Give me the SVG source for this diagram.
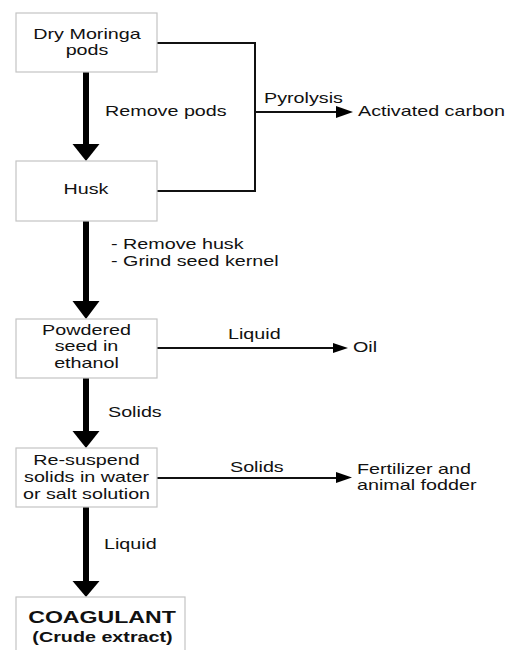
<svg xmlns="http://www.w3.org/2000/svg" width="509" height="650" viewBox="0 0 509 650">
<defs>
<style>
.box{fill:#fff;stroke:#c4c4c4;stroke-width:1.2}
.t{font-family:"Liberation Sans",Arial,sans-serif;font-size:15px;fill:#111}
.b{font-weight:bold}
.thin{fill:none;stroke:#111;stroke-width:2}
.thick{fill:none;stroke:#000;stroke-width:6}
.head{fill:#000}
</style>
<marker id="ah" markerWidth="9" markerHeight="7" refX="9" refY="3.5" orient="auto" markerUnits="strokeWidth">
<path d="M0,0 L9,3.5 L0,7 Z" fill="#000"/>
</marker>
</defs>
<rect width="509" height="650" fill="#fff"/>

<g id="connectors">
<path class="thin" d="M157,43 H255 V191 H157"/>
<path class="thin" d="M255,112 H337"/>
<path class="head" d="M336,106 L353,112 L336,118 Z"/>
<path class="thin" d="M157,348 H334"/>
<path class="head" d="M333,343 L348,348 L333,353 Z"/>
<path class="thin" d="M157,478 H337"/>
<path class="head" d="M336,472 L352,477.5 L336,483 Z"/>
<path class="thick" d="M86,72 V146"/>
<path class="head" d="M72.5,144 H99.5 L86,161 Z"/>
<path class="thick" d="M86,221 V303"/>
<path class="head" d="M72.5,301 H99.5 L86,319 Z"/>
<path class="thick" d="M86,378 V433"/>
<path class="head" d="M72.5,431 H99.5 L86,448 Z"/>
<path class="thick" d="M86,507 V583"/>
<path class="head" d="M72.5,581 H99.5 L86,597 Z"/>
</g>

<g id="labels" class="t">
<text transform="matrix(1.315 0 0 1 105 116)">Remove pods</text>
<text transform="matrix(1.315 0 0 1 264 103)">Pyrolysis</text>
<text transform="matrix(1.315 0 0 1 111 249)">- Remove husk</text>
<text transform="matrix(1.315 0 0 1 111 266)">- Grind seed kernel</text>
<text transform="matrix(1.315 0 0 1 228 339)">Liquid</text>
<text transform="matrix(1.315 0 0 1 108 417)">Solids</text>
<text transform="matrix(1.315 0 0 1 230 472)">Solids</text>
<text transform="matrix(1.315 0 0 1 104 549)">Liquid</text>
</g>

<g id="n-dry">
<rect class="box" x="16" y="13" width="141" height="59"/>
<text class="t" text-anchor="middle" transform="matrix(1.315 0 0 1 87 39)">Dry Moringa<tspan x="0" y="16">pods</tspan></text>
</g>

<g id="n-husk">
<rect class="box" x="16" y="161" width="141" height="60"/>
<text class="t" text-anchor="middle" transform="matrix(1.315 0 0 1 86 194)">Husk</text>
</g>

<g id="n-carbon">
<text class="t" transform="matrix(1.315 0 0 1 358 116)">Activated carbon</text>
</g>

<g id="n-powder">
<rect class="box" x="16" y="319" width="141" height="59"/>
<text class="t" text-anchor="middle" transform="matrix(1.315 0 0 1 86.5 335)">Powdered<tspan x="0" y="16.5">seed in</tspan><tspan x="0" y="33">ethanol</tspan></text>
</g>

<g id="n-oil">
<text class="t" transform="matrix(1.315 0 0 1 353 352)">Oil</text>
</g>

<g id="n-resuspend">
<rect class="box" x="16" y="448" width="141" height="59"/>
<text class="t" text-anchor="middle" transform="matrix(1.315 0 0 1 86.5 465)">Re-suspend<tspan x="0" y="17">solids in water</tspan><tspan x="0" y="34">or salt solution</tspan></text>
</g>

<g id="n-fert">
<text class="t" transform="matrix(1.315 0 0 1 357 474)">Fertilizer and<tspan x="0" y="16">animal fodder</tspan></text>
</g>

<g id="n-coag">
<rect class="box" x="16" y="597" width="169" height="70"/>
<text class="t b" text-anchor="middle" style="font-size:17px" transform="matrix(1.36 0 0 1 102 623)">COAGULANT</text>
<text class="t b" text-anchor="middle" transform="matrix(1.315 0 0 1 102.5 642)">(Crude extract)</text>
</g>
</svg>
